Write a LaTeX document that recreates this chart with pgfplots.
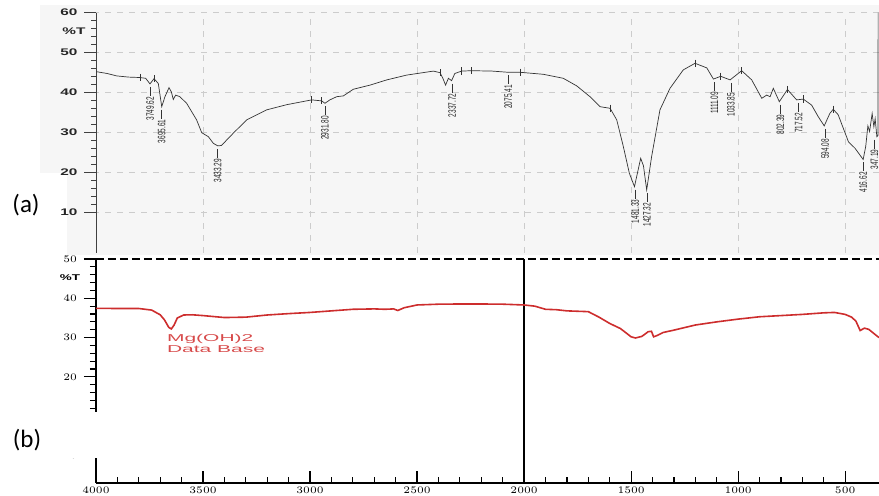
\documentclass[border=0pt]{standalone}
\usepackage{fontspec}
\setmainfont{Liberation Sans}
\newfontfamily\carl{Carlito}
\newfontfamily\wide[FakeStretch=1.6]{Liberation Sans}
\newfontfamily\widest[FakeStretch=2.1]{Liberation Sans}
\newfontfamily\narrow[FakeStretch=0.6]{Liberation Sans}
\usepackage{pgfplots}
\pgfplotsset{compat=1.18}
\definecolor{specred}{RGB}{205,45,45}
\definecolor{txtred}{RGB}{215,75,75}
\newcommand{\pk}[3]{\draw[black!80, line width=0.3pt] (axis cs:#1,#2) ++(0pt,-1.5pt) -- ++(0pt,-4.5pt) node[anchor=east, rotate=90, inner sep=0.3pt, font=\narrow\fontsize{5.4}{6}\selectfont, text=black!85]{#3};}
\begin{document}
\begin{tikzpicture}
\useasboundingbox (0,0) rectangle (439.5pt,248pt);
\fill[gray!7] (20pt,120.5pt) rectangle (439.5pt,245.5pt);
\fill[white] (0,120.5pt) rectangle (33.5pt,161.5pt);
% ---------- top panel (a)
\begin{axis}[
 at={(48.25pt,121.65pt)}, anchor=south west,
 scale only axis, width=391.25pt, height=120pt,
 x dir=reverse, xmin=342, xmax=4000, ymin=0, ymax=60,
 axis y line*=left, axis x line*=bottom,
 x axis line style={draw=none},
 y axis line style={draw=black!75, line width=0.4pt, -},
 xtick={500,1000,...,3500}, xticklabels={}, xtick style={draw=none},
 ytick={10,20,...,60}, yticklabels={10,20,30,40,50,60}, minor y tick num=4,
 tick align=outside, major tick length=6pt, minor tick length=2.5pt,
 y tick style={black!75, line width=0.4pt},
 grid=major, major grid style={gray!40, dashed, line width=0.3pt},
 yticklabel style={font=\wide\bfseries\fontsize{4.8}{5}\selectfont, text=black!85},
 clip=false,
]
\addplot[black!80, line width=0.35pt] table {
4000 45.25
3950 44.8
3906 44.2
3850 43.9
3800 43.8
3770 43.6
3750 42.2
3731 43.5
3711 42.3
3695 36.5
3680 39
3661 41.25
3650 40.2
3641 38.3
3630 39.4
3610 39
3578 37.3
3532 33.2
3508 30
3477 29
3454 27.35
3433 26.7
3416 26.8
3361 29.85
3298 33.2
3205 35.7
3111 37.0
2994 38.2
2947 37.95
2932 37.35
2909 38.2
2877 39
2846 39.2
2800 40.85
2721 41.9
2643 43.2
2550 44.4
2425 45.4
2394 45.0
2380 43.5
2368 41.9
2355 43.6
2340 43.0
2325 44.8
2293 45.4
2246 45.5
2150 45.4
2075 45.1
2020 45.1
1911 44.6
1818 43.6
1755 41.7
1693 39
1646 36.5
1599 36.1
1568 33.2
1537 26.5
1509 19.85
1485 16.5
1475 19
1456 23.6
1443 21.7
1428 15.7
1405 24
1366 35.7
1319 41.1
1257 45.7
1202 47.35
1147 46.2
1116 43.4
1082 44.1
1038 43.2
984 45.5
937 43.2
890 38.6
867 39.4
851 39
836 41.1
808 37.75
770 40.8
727 38.2
696 38.4
657 36.9
626 34
598 31.7
572 34.8
556 35.85
533 34.5
485 27.75
454 26.1
416 23.3
404 26.6
394 31.7
386 30.3
374 34.8
366 31.5
360 33.5
352 29
347 29.3
346 60
};
\addplot[only marks, mark=|, mark size=1.8pt, black!80, mark options={line width=0.3pt}] table {
3797 43.8
3731 43.5
2994 38.2
2947 37.95
2394 45.0
2293 45.4
2246 45.5
2020 45.1
1599 36.1
1202 47.35
1082 44.1
984 45.5
770 40.8
696 38.4
556 35.85
};
\pk{3749.62}{42.2}{3749.62}
\pk{3695.61}{36.5}{3695.61}
\pk{3433.29}{26.7}{3433.29}
\pk{2931.80}{37.35}{2931.80}
\pk{2337.72}{43.0}{2337.72}
\pk{2075.41}{45.1}{2075.41}
\pk{1481.33}{16.5}{1481.33}
\pk{1427.32}{15.7}{1427.32}
\pk{1111.09}{43.4}{1111.09}
\pk{1033.85}{43.2}{1033.85}
\pk{802.39}{37.75}{802.39}
\pk{717.52}{38.2}{717.52}
\pk{594.08}{31.7}{594.08}
\pk{416.62}{23.3}{416.62}
\pk{363}{29}{347.19}
\end{axis}
\node[font=\wide\bfseries\fontsize{4.8}{5}\selectfont, text=black!85] at (37pt,232.5pt) {\%T};
% ---------- bottom panel (b)
\begin{axis}[
 at={(48pt,6.5pt)}, anchor=south west,
 scale only axis, width=391.5pt, height=112pt,
 x dir=reverse, xmin=342, xmax=4000, ymin=-7, ymax=50,
 axis x line*=bottom, axis y line*=left,
 axis line style={black, line width=1pt, -},
 xtick={500,1000,...,4000}, minor x tick num=4,
 ytick={0,10,...,50}, minor y tick num=4,
 xtick align=inside, ytick align=outside,
 major tick length=6pt, minor tick length=3pt,
 tick style={black, line width=0.6pt},
 /pgf/number format/1000 sep={},
 xticklabel style={font=\wide\bfseries\fontsize{4.5}{5}\selectfont, text=black, yshift=1.5pt},
 yticklabel style={font=\wide\bfseries\fontsize{4.2}{5}\selectfont, text=black},
 clip=false,
]
\addplot[black, line width=1pt] coordinates {(2000,-7) (2000,50)};
\draw[black, line width=1pt, dash pattern=on 4pt off 2pt] (rel axis cs:0,1) -- (rel axis cs:1,1);
\addplot[specred, line width=0.8pt] table {
4000 37.45
3900 37.4
3800 37.4
3740 37.0
3700 35.8
3680 34.5
3660 32.6
3648 32.2
3635 33.2
3620 35
3590 35.75
3550 35.8
3500 35.6
3400 35.1
3300 35.2
3200 35.75
3100 36.1
3000 36.4
2900 36.8
2800 37.2
2700 37.3
2650 37.2
2610 37.3
2590 36.9
2560 37.6
2500 38.3
2400 38.5
2300 38.55
2200 38.55
2100 38.5
2000 38.3
1950 38.0
1900 37.2
1850 37.1
1800 36.8
1700 36.6
1650 35.2
1600 33.6
1550 32.3
1500 30.2
1480 29.9
1450 30.3
1420 31.5
1405 31.6
1395 30.2
1380 30.5
1350 31.3
1300 31.9
1200 33.2
1100 34
1000 34.7
900 35.3
800 35.6
700 35.9
600 36.3
550 36.4
500 35.9
470 35.2
450 34.2
430 31.8
410 32.4
390 32.1
342 30.0
};
\node[anchor=north west, align=left, inner sep=0pt, text=txtred, font=\widest\fontsize{5}{4.2}\selectfont] at (axis cs:3670,31) {Mg(OH)2\\Data Base};
\end{axis}
\node[font=\wide\bfseries\fontsize{4.2}{5}\selectfont, text=black] at (35pt,109pt) {\%T};
\fill[white] (0,19pt) rectangle (51.5pt,42pt);
\node[font=\carl\fontsize{12.5}{14}\selectfont] at (13pt,145.5pt) {(a)};
\node[font=\carl\fontsize{12.5}{14}\selectfont] at (13.5pt,28pt) {(b)};
\end{tikzpicture}
\end{document}
